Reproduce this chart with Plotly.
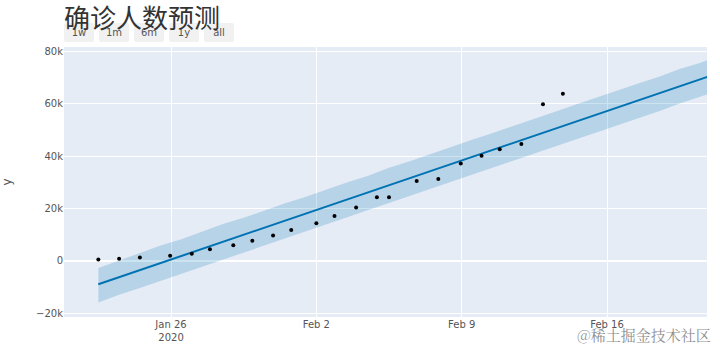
import plotly.graph_objects as go

# Actual observations
actual_ds = ["2020-01-22 12:00", "2020-01-23 12:00", "2020-01-24 12:00", "2020-01-25 23:00",
             "2020-01-27 00:00", "2020-01-27 21:00", "2020-01-29 00:00", "2020-01-29 22:00",
             "2020-01-30 22:00", "2020-01-31 19:00", "2020-02-02 00:00", "2020-02-02 21:00",
             "2020-02-03 22:00", "2020-02-04 22:00", "2020-02-05 12:00", "2020-02-06 20:00",
             "2020-02-07 21:00", "2020-02-08 23:00", "2020-02-09 23:00", "2020-02-10 20:00",
             "2020-02-11 21:00", "2020-02-12 22:00", "2020-02-13 21:00"]
actual_y = [571, 830, 1287, 1975, 2744, 4515, 5974, 7711, 9692, 11791, 14380, 17205,
            20438, 24324, 24324, 30500, 31300, 37198, 40171, 42638, 44653, 59804, 63851]

# Forecast
fc_ds = ["2020-01-22 12:00", "2020-01-23 12:00", "2020-01-24 12:00", "2020-01-25 12:00",
         "2020-01-26 12:00", "2020-01-27 12:00", "2020-01-28 12:00", "2020-01-29 12:00",
         "2020-01-30 12:00", "2020-01-31 12:00", "2020-02-01 12:00", "2020-02-02 12:00",
         "2020-02-03 12:00", "2020-02-04 12:00", "2020-02-05 12:00", "2020-02-06 12:00",
         "2020-02-07 12:00", "2020-02-08 12:00", "2020-02-09 12:00", "2020-02-10 12:00",
         "2020-02-11 12:00", "2020-02-12 12:00", "2020-02-13 12:00", "2020-02-14 12:00",
         "2020-02-15 12:00", "2020-02-16 12:00", "2020-02-17 12:00", "2020-02-18 12:00",
         "2020-02-19 12:00", "2020-02-20 12:00", "2020-02-21 12:00"]
yhat = [-8900, -6200, -3500, -800, 1900, 4600, 7300, 10000, 12700, 15400, 18100,
        20800, 23500, 26200, 28900, 31600, 34300, 37000, 39700, 42400, 45100, 47800,
        50500, 53200, 55900, 58600, 61300, 64000, 66700, 69400, 72100]
yhat_upper = [-2700, 200, 3000, 5900, 8300, 11200, 14100, 16500, 19300, 22000, 24500,
              27400, 30100, 32500, 35600, 38100, 40900, 43400, 46300, 48900, 51500, 54300,
              57000, 59700, 62300, 65100, 67800, 70300, 73300, 75700, 78600]
yhat_lower = [-15900, -12900, -10300, -7600, -5000, -2200, 600, 3200, 6000, 8600, 11300,
              14100, 16700, 19300, 22200, 24800, 27400, 30200, 32900, 35600, 38400, 40800,
              43600, 46400, 49100, 51700, 54400, 57200, 60100, 62600, 65400]

x_range = ["2020-01-20 20:18", "2020-02-20 19:36"]
y_ticks = [-20000, 0, 20000, 40000, 60000, 80000]
y_ticklabels = ["−20k", "0", "20k", "40k", "60k", "80k"]

band = "rgba(0, 114, 178, 0.2)"
fig = go.Figure()
fig.add_trace(go.Scatter(x=fc_ds, y=yhat_lower, mode="lines", line=dict(width=0),
                         hoverinfo="skip", showlegend=False))
fig.add_trace(go.Scatter(x=fc_ds, y=yhat, mode="lines", name="Predicted",
                         line=dict(color="#0072B2", width=2), fill="tonexty",
                         fillcolor=band, showlegend=False))
fig.add_trace(go.Scatter(x=fc_ds, y=yhat_upper, mode="lines", line=dict(width=0),
                         fill="tonexty", fillcolor=band, hoverinfo="skip", showlegend=False))
fig.add_trace(go.Scatter(x=actual_ds, y=actual_y, mode="markers", name="Actual",
                         marker=dict(color="black", size=4), showlegend=False))

fig.update_layout(
    template="plotly",
    width=720, height=344,
    margin=dict(l=64, r=13, t=47, b=27),
    title=dict(text="确诊人数预测", x=0, xref="paper", xanchor="left",
               y=1 - 19 / 344, yref="container", yanchor="middle",
               font=dict(family="Noto Sans CJK SC", size=26, color="#333333")),
    font=dict(family="DejaVu Sans, Noto Sans CJK SC", size=10, color="#555"),
    showlegend=False,
    xaxis=dict(range=x_range, automargin=False, tickformat="%b %-d\n%Y",
               rangeselector=dict(font=dict(size=10), y=1.019, yanchor="bottom",
                                  bgcolor="rgba(238,238,238,0.8)",
                                  activecolor="rgba(212,212,212,0.9)",
                                  buttons=[
                   dict(count=7, label="1w", step="day", stepmode="backward"),
                   dict(count=1, label="1m", step="month", stepmode="backward"),
                   dict(count=6, label="6m", step="month", stepmode="backward"),
                   dict(count=1, label="1y", step="year", stepmode="backward"),
                   dict(step="all"),
               ])),
    yaxis=dict(range=[-21400, 81700], tickvals=y_ticks, ticktext=y_ticklabels,
               title=dict(text="y", standoff=22, font=dict(size=12)), automargin=False),
)
fig.add_annotation(text="@稀土掘金技术社区", xref="paper", yref="paper",
                   x=1.01, y=-0.02, xanchor="right", yanchor="top", showarrow=False,
                   font=dict(family="Noto Serif CJK SC, Noto Sans CJK SC", size=15,
                             color="rgba(90,90,90,0.7)"))
fig.write_html("out.html")
